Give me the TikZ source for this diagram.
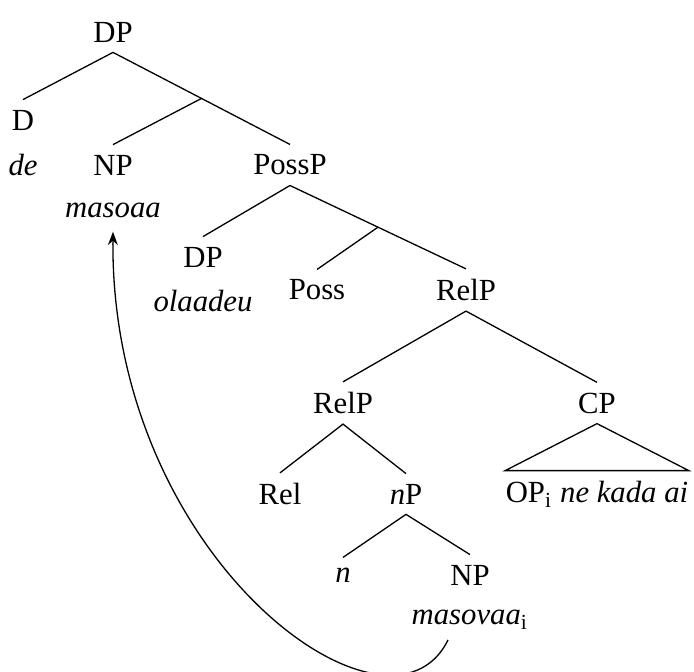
\documentclass[tikz,border=0pt]{standalone}
\usepackage{amsmath}
\usepackage{fontspec}
\setmainfont{Liberation Serif}
\usepackage{tikz}
\usetikzlibrary{calc, arrows.meta}

\begin{document}
\begin{tikzpicture}[>={Stealth[length=4.6pt, width=3.4pt, inset=1.5pt]}, x=0.345pt, y=-0.345pt, font=\fontsize{10.6}{12}\selectfont, line width=0.45pt]
        \useasboundingbox (0,0) rectangle (694,672);
        \node (dp) at (113,32) {DP};
        \node (d) at (23,120) {D};
        \node (de) at (23,165) {\textit{de}};
        \node (np) at (113,165) {NP};
        \node (masoaa) at (113,210) {\textit{masoaa}};
        \node (possp) at (290,165) {PossP};
        \node (dpb) at (203,257) {DP};
        \node (olaadeu) at (203,301) {\textit{olaadeu}};
        \node (poss) at (317,290) {Poss};
        \node (relp) at (466,290) {RelP};
        \node (relpb) at (343,403) {RelP};
        \node (cp) at (597,403) {CP};
        \node (rel) at (280,494) {Rel};
        \node (nlp) at (406,494) {\textit{n}P};
        \node (op) at (597,494) [inner xsep=0pt] {OP\textsubscript{i} \textit{ne kada ai}};
        \node (n) at (343,575) {\textit{n}};
        \node (npb) at (470,575) {NP};
        \node (masovaa) at (470,620) {\textit{masovaa}\textsubscript{i}};
        \coordinate (j1) at ($(dp.south)!0.5!(possp.north)$);
        \coordinate (j2) at ($(possp.south)!0.5!(relp.north)$);
        \draw (d.north)--(dp.south)--(possp.north);
        \draw (j1)--(np.north);
        \draw (dpb.north)--(possp.south)--(relp.north);
        \draw (j2)--(poss.north);
        \draw (relpb.north)--(relp.south)--(cp.north);
        \draw (rel.north)--(relpb.south)--(nlp.north);
        \draw (cp.south)--(op.north west)--(op.north east)--cycle;
        \draw (n.north)--(nlp.south)--(npb.north);
        \draw[->] ($(masovaa.south)+(-22,0)$) .. controls (390,760) and (110,560) .. ($(masoaa.south)+(0,4)$);

    \end{tikzpicture}
\end{document}
